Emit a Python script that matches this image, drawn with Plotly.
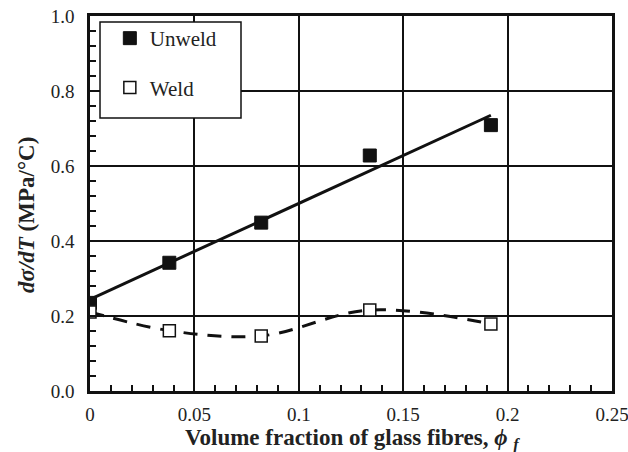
import plotly.graph_objects as go
import numpy as np

# Volume fraction of glass fibres
phi_f = [0.0, 0.038, 0.082, 0.134, 0.192]
# Rate of stress change with temperature, MPa/°C
unweld = [0.235, 0.342, 0.449, 0.628, 0.709]
weld = [0.211, 0.161, 0.147, 0.216, 0.179]

x_ticks = [0, 0.05, 0.1, 0.15, 0.2, 0.25]
x_ticklabels = ["0", "0.05", "0.1", "0.15", "0.2", "0.25"]
y_ticks = [0.0, 0.2, 0.4, 0.6, 0.8, 1.0]
y_ticklabels = ["0.0", "0.2", "0.4", "0.6", "0.8", "1.0"]

FONT = "Liberation Serif, Times New Roman, serif"
INK = "#111"

# Linear trend for the unwelded series
xs = np.linspace(min(phi_f), max(phi_f), 100)
lin = np.polyval(np.polyfit(phi_f, unweld, 1), xs)

fig = go.Figure()
fig.add_trace(go.Scatter(x=xs, y=lin, mode="lines", showlegend=False,
                         line=dict(color=INK, width=3), hoverinfo="skip"))
# Smoothed curve through the welded series
fig.add_trace(go.Scatter(x=phi_f, y=weld, mode="lines", showlegend=False,
                         line=dict(color=INK, width=3, dash="14px,10px",
                                   shape="spline", smoothing=1.0),
                         hoverinfo="skip"))
fig.add_trace(go.Scatter(x=phi_f, y=unweld, mode="markers", name="Unweld",
                         legendgroup="a",
                         marker=dict(symbol="square", size=13, color=INK,
                                     line=dict(color=INK, width=1))))
fig.add_trace(go.Scatter(x=phi_f, y=weld, mode="markers", name="Weld",
                         legendgroup="b",
                         marker=dict(symbol="square", size=12, color="white",
                                     line=dict(color=INK, width=1.5))))

axis_common = dict(
    showline=True, linecolor=INK, linewidth=2.5, mirror=True,
    showgrid=True, gridcolor=INK, gridwidth=1.5,
    ticks="inside", ticklen=7, tickwidth=1.5, tickcolor=INK,
    tickfont=dict(family=FONT, size=19, color="#222"),
    zeroline=False, automargin=False, ticklabeloverflow="allow",
)

fig.update_xaxes(
    range=[0, 0.25], tickvals=x_ticks, ticktext=x_ticklabels,
    minor=dict(dtick=0.01, ticks="inside", ticklen=6, tickwidth=1.5,
               tickcolor=INK, showgrid=False),
    ticklabelstandoff=4,
    **axis_common,
)
fig.update_yaxes(
    range=[0, 1.0], tickvals=y_ticks, ticktext=y_ticklabels,
    minor=dict(dtick=0.04, ticks="inside", ticklen=6, tickwidth=1.5,
               tickcolor=INK, showgrid=False),
    ticklabelstandoff=9,
    **axis_common,
)

# Axis titles
fig.add_annotation(text="<b>Volume fraction of glass fibres, <i>ϕ</i> <sub><i>f</i></sub></b>",
                   xref="paper", yref="paper", x=(352 - 90) / 522, y=(391 - 439) / 375,
                   xanchor="center", yanchor="middle", showarrow=False,
                   font=dict(family=FONT, size=23, color="#222"))
fig.add_annotation(text="<b><i>dσ/dT</i> (MPa/°C)</b>", textangle=-90,
                   xref="paper", yref="paper", x=(27 - 90) / 522, y=(391 - 215) / 375,
                   xanchor="center", yanchor="middle", showarrow=False,
                   font=dict(family=FONT, size=23, color="#222"))

# Legend frame, drawn as a paper-space rectangle
fig.add_shape(type="rect", xref="paper", yref="paper",
              x0=(100 - 90) / 522, x1=(241 - 90) / 522,
              y0=(391 - 118) / 375, y1=(391 - 22) / 375,
              line=dict(color=INK, width=1.5), fillcolor="white", layer="above")

fig.update_layout(
    width=628, height=452,
    margin=dict(l=90, r=16, t=16, b=61),
    paper_bgcolor="white", plot_bgcolor="white",
    showlegend=True,
    legend=dict(x=0.038, y=(391 - 18) / 375, xanchor="left", yanchor="top",
                bgcolor="rgba(0,0,0,0)", borderwidth=0,
                font=dict(family=FONT, size=21, color="#222"),
                tracegroupgap=19, itemwidth=30),
)

fig.write_html("out.html")
